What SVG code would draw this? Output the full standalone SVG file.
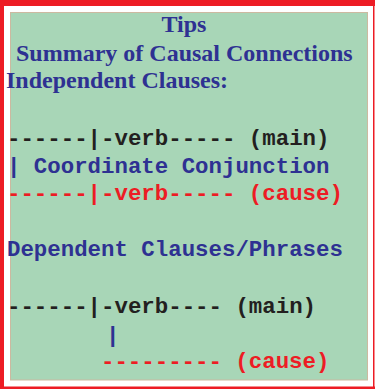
<svg xmlns="http://www.w3.org/2000/svg" width="375" height="389" viewBox="0 0 375 389">
<style>
.hd{font-family:"Liberation Serif","Times New Roman",serif;font-weight:bold;font-size:24px;fill:#2e3192}
.m{font-family:"Liberation Mono","Courier New",monospace;font-weight:bold;font-size:22.4px;white-space:pre}
.k{fill:#231f20}.b{fill:#2e3192}.r{fill:#ed1c24}
</style>
<rect x="0" y="0" width="375" height="389" fill="#ffffff"/>
<g id="frame" fill="#ed1c24">
<rect x="0" y="0" width="375" height="6"/>
<rect x="0" y="0" width="4" height="389"/>
<rect x="0" y="386.5" width="375" height="2.5"/>
<rect x="373" y="0" width="1.5" height="389"/>
</g>
<rect id="panel" x="10.5" y="12.5" width="357" height="367.5" fill="#a8d6b7" stroke="#cdb9a0" stroke-width="1"/>
<g id="text">
<text class="hd" x="184" y="32" text-anchor="middle">Tips</text>
<text class="hd" x="16" y="61">Summary of Causal Connections</text>
<text class="hd" x="6" y="88">Independent Clauses:</text>
<text class="m k" x="7" y="145" xml:space="preserve">------|-verb----- (main)</text>
<text class="m b" x="7" y="173" xml:space="preserve">| Coordinate Conjunction</text>
<text class="m r" x="7" y="200" xml:space="preserve">------|-verb----- (cause)</text>
<text class="m b" x="7" y="256" xml:space="preserve">Dependent Clauses/Phrases</text>
<text class="m k" x="7" y="313" xml:space="preserve">------|-verb---- (main)</text>
<text class="m b" x="106" y="342">|</text>
<text class="m r" x="101" y="368" xml:space="preserve">--------- (cause)</text>
</g>
</svg>
